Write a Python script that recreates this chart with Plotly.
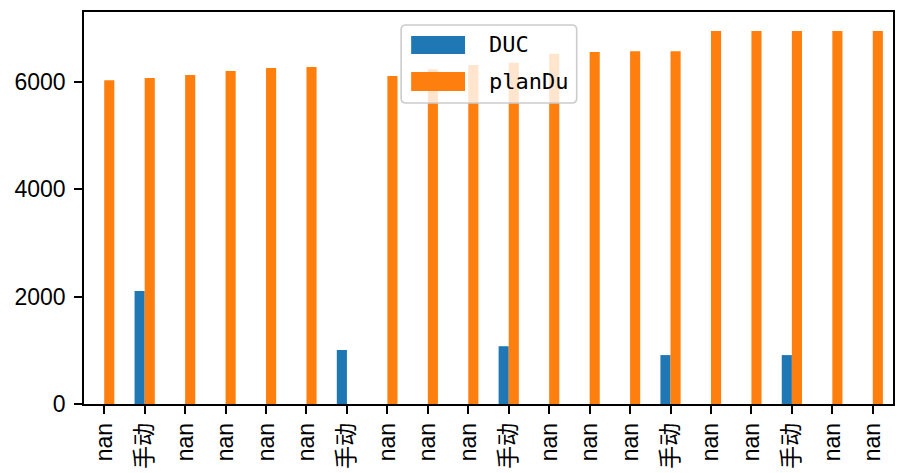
import plotly.graph_objects as go

categories = ["nan", "手动", "nan", "nan", "nan", "nan", "手动", "nan", "nan", "nan",
              "手动", "nan", "nan", "nan", "手动", "nan", "nan", "手动", "nan", "nan"]
duc = [None, 2100, None, None, None, None, 1005, None, None, None,
       1075, None, None, None, 910, None, None, 910, None, None]
plandu = [6025, 6065, 6120, 6195, 6250, 6270, None, 6100, 6230, 6305,
          6350, 6515, 6550, 6565, 6565, 6940, 6940, 6940, 6940, 6940]
yticks = [0, 2000, 4000, 6000]

BLUE = "#1f77b4"
ORANGE = "#ff7f0e"
xs = list(range(len(categories)))

fig = go.Figure()
fig.add_trace(go.Bar(x=xs, y=duc, name="DUC", marker=dict(color=BLUE, line=dict(width=0))))
fig.add_trace(go.Bar(x=xs, y=plandu, name="planDu", marker=dict(color=ORANGE, line=dict(width=0))))

tickfont = dict(family="Liberation Sans, Arial, Noto Sans CJK SC", size=23, color="black")
fig.update_layout(
    width=897, height=473,
    margin=dict(l=84, r=2, t=12, b=69),
    paper_bgcolor="white", plot_bgcolor="white",
    barmode="group", bargap=0.5, bargroupgap=0,
    showlegend=False,
    xaxis=dict(range=[-0.5, len(categories) - 0.5], tickvals=xs, ticktext=categories,
               tickangle=-90, ticks="outside", ticklen=8, tickcolor="black", tickwidth=1.6,
               ticklabelstandoff=0,
               showline=True, linecolor="black", linewidth=1.6, mirror=True,
               showgrid=False, zeroline=False, tickfont=tickfont),
    yaxis=dict(range=[0, 7293], tickvals=yticks, ticktext=[str(v) for v in yticks],
               ticks="outside", ticklen=8, tickcolor="black", tickwidth=1.6,
               ticklabelstandoff=4,
               showline=True, linecolor="black", linewidth=1.6, mirror=True,
               showgrid=False, zeroline=False, tickfont=tickfont),
)

# legend box (drawn to mimic the original legend, rounded corners)
x0, x1, y0, y1 = 0.392, 0.609, 0.768, 0.967
rx, ry = 0.006, 0.012
path = (f"M {x0+rx} {y0} L {x1-rx} {y0} Q {x1} {y0} {x1} {y0+ry} "
        f"L {x1} {y1-ry} Q {x1} {y1} {x1-rx} {y1} "
        f"L {x0+rx} {y1} Q {x0} {y1} {x0} {y1-ry} "
        f"L {x0} {y0+ry} Q {x0} {y0} {x0+rx} {y0} Z")
fig.add_shape(type="path", path=path, xref="paper", yref="paper",
              fillcolor="rgba(255,255,255,0.8)", line=dict(color="#cccccc", width=1.6), layer="above")
legend_items = [("DUC", BLUE, 0.9388, 0.8929), ("planDu", ORANGE, 0.8469, 0.7985)]
for name, col, ya, yb in legend_items:
    fig.add_shape(type="rect", xref="paper", yref="paper", x0=0.4044, x1=0.471, y0=yb, y1=ya,
                  fillcolor=col, line=dict(width=0), layer="above")
    fig.add_annotation(xref="paper", yref="paper", x=0.498, y=(ya + yb) / 2, text=name,
                       showarrow=False, xanchor="left", yanchor="middle",
                       font=dict(family="DejaVu Sans Mono, Liberation Mono", size=22, color="black"))

fig.write_html("out.html", config={"displayModeBar": False})
with open("out.html", "r", encoding="utf-8") as f:
    html = f.read()
html = html.replace("<head>", "<head><style>html,body{margin:0;padding:0;overflow:hidden}</style>", 1)
with open("out.html", "w", encoding="utf-8") as f:
    f.write(html)
